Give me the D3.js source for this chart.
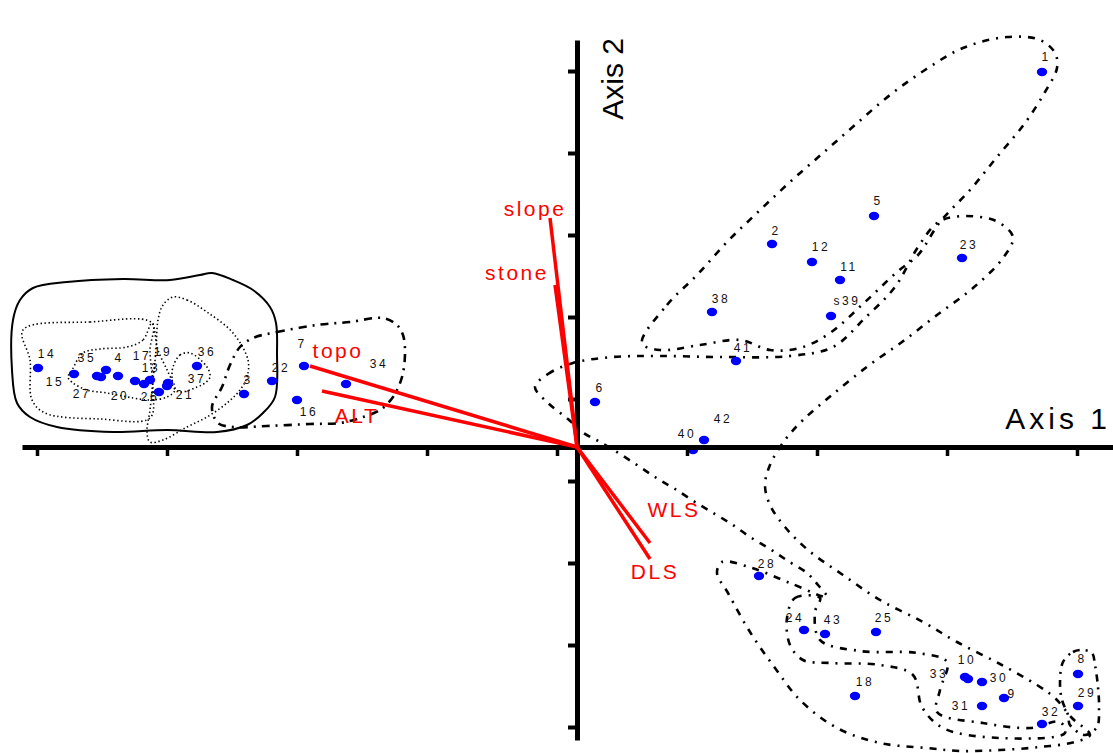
<!DOCTYPE html>
<html>
<head>
<meta charset="utf-8">
<script src="https://cdn.jsdelivr.net/npm/d3@7"></script>
<style>
html,body{margin:0;padding:0;background:#fff;}
svg{display:block;}
</style>
</head>
<body>
<svg id="chart" width="1113" height="753"></svg>
<script>
// ---------- data (ordination scores) ----------
const siteIds = ["1","2","3","4","5","6","7","8","9","10","11","12","13","14","15","16","17","18","19","20","21","22","23","24","25","26","27","28","29","30","31","32","33","34","35","36","37","38","s39","40","41","42","43"];
const axis1Scores = [4.65,1.95,-3.33,-4.59,2.97,0.18,-2.73,5.01,4.27,3.88,2.63,2.35,-4.33,-5.39,-5.03,-2.80,-4.42,2.78,-4.27,-4.71,-4.10,-3.05,3.85,2.27,2.99,-4.18,-4.76,1.82,5.01,4.05,4.05,4.65,3.91,-2.31,-4.80,-3.80,-4.09,1.35,2.54,1.16,1.59,1.27,2.48];
const axis2Scores = [3.75,2.03,0.53,0.71,2.31,0.45,0.81,-2.27,-2.51,-2.30,1.67,1.85,0.63,0.79,0.73,0.47,0.66,-2.49,0.67,0.77,0.61,0.66,1.89,-1.83,-1.85,0.55,0.70,-1.29,-2.59,-2.35,-2.59,-2.77,-2.32,0.63,0.71,0.81,0.64,1.35,1.31,-0.03,0.86,0.07,-1.87];
// label anchor positions (score units)
const labelAxis1 = [4.69,1.99,-3.29,-4.58,3.01,0.23,-2.75,5.05,4.35,3.90,2.72,2.44,-4.26,-5.30,-5.22,-2.68,-4.35,2.88,-4.14,-4.57,-3.92,-2.96,3.92,2.18,3.07,-4.27,-4.95,1.90,5.10,4.22,3.84,4.74,3.62,-1.98,-4.90,-3.70,-3.80,1.44,2.70,1.10,1.66,1.46,2.56];
const labelAxis2 = [3.90,2.16,0.67,0.89,2.46,0.59,1.03,-2.12,-2.47,-2.13,1.80,2.00,0.79,0.93,0.65,0.35,0.91,-2.35,0.95,0.51,0.52,0.79,2.02,-1.71,-1.71,0.50,0.53,-1.17,-2.46,-2.31,-2.59,-2.65,-2.27,0.83,0.89,0.95,0.68,1.48,1.46,0.13,0.99,0.28,-1.73];

// environmental vectors
const envNames = ["slope","stone","topo","ALT","WLS","DLS"];
const envAxis1 = [-0.27,-0.22,-2.67,-2.55,0.73,0.73];
const envAxis2 = [2.29,1.62,0.81,0.56,-0.96,-1.12];
const envLabelAxis1 = [-0.42,-0.60,-2.39,-2.20,0.97,0.78];
const envLabelAxis2 = [2.31,1.67,0.89,0.24,-0.70,-1.32];

// axis ticks
const axis1Ticks = [-5.40,-4.10,-2.80,-1.50,-0.20,1.10,2.40,3.70,5.00];
const axis2Ticks = [3.76,2.94,2.12,1.30,0.48,-0.34,-1.16,-1.98,-2.80];
const axisTitles = ["Axis 1","Axis 2"];

// group envelopes (score units)
const envSolid = [[-3.65,1.74],[-3.44,1.67],[-3.24,1.57],[-3.07,1.40],[-3.01,1.24],[-3.00,0.94],[-3.02,0.50],[-3.14,0.34],[-3.30,0.22],[-3.60,0.15],[-4.10,0.17],[-4.64,0.15],[-5.20,0.20],[-5.47,0.30],[-5.60,0.44],[-5.65,0.77],[-5.64,1.27],[-5.57,1.47],[-5.44,1.59],[-5.10,1.65],[-4.54,1.68],[-4.07,1.67],[-3.77,1.72]];
const envDot1 = [[-5.54,1.17],[-4.87,1.25],[-4.25,1.24],[-4.27,0.97],[-4.24,0.57],[-4.27,0.29],[-4.77,0.28],[-5.32,0.34],[-5.45,0.47],[-5.47,0.87]];
const envDot2 = [[-4.25,1.24],[-4.34,1.07],[-4.50,1.00],[-4.77,0.98],[-4.94,0.94],[-5.05,0.77],[-5.09,0.70],[-5.04,0.64],[-4.90,0.57],[-4.70,0.54],[-4.44,0.49],[-4.27,0.47],[-4.10,0.50],[-4.02,0.57],[-4.09,0.75],[-4.19,0.97]];
const envDot3 = [[-4.04,1.50],[-3.90,1.47],[-3.70,1.35],[-3.44,1.14],[-3.29,0.87],[-3.30,0.70],[-3.37,0.57],[-3.50,0.44],[-3.70,0.30],[-3.90,0.20],[-4.14,0.07],[-4.27,0.05],[-4.30,0.15],[-4.27,0.37],[-4.24,0.67],[-4.21,0.97],[-4.19,1.27],[-4.14,1.42]];
const envDot4 = [[-4.04,0.80],[-3.97,0.92],[-3.87,0.94],[-3.70,0.80],[-3.67,0.70],[-3.72,0.64],[-3.80,0.60],[-3.97,0.55],[-4.04,0.60],[-4.05,0.70]];
const envDash1 = [[-3.24,1.09],[-3.00,1.15],[-2.60,1.22],[-2.27,1.25],[-1.94,1.29],[-1.80,1.22],[-1.74,1.12],[-1.72,0.94],[-1.75,0.70],[-1.84,0.50],[-1.97,0.37],[-2.17,0.29],[-2.37,0.24],[-2.67,0.23],[-3.10,0.21],[-3.44,0.20],[-3.59,0.24],[-3.65,0.40],[-3.55,0.60],[-3.47,0.82],[-3.37,1.00]];
const envDash2 = [[0.65,1.04],[0.90,1.42],[1.20,1.72],[1.50,2.05],[1.81,2.35],[2.13,2.65],[2.46,2.94],[2.78,3.22],[3.13,3.52],[3.48,3.77],[3.86,3.99],[4.30,4.10],[4.63,4.07],[4.78,3.94],[4.80,3.79],[4.68,3.55],[4.48,3.24],[4.20,2.90],[3.93,2.57],[3.63,2.25],[3.41,1.92],[3.20,1.75],[2.88,1.45],[2.53,1.14],[2.23,0.99],[1.93,0.97],[1.63,1.07],[1.23,1.02],[0.83,0.97]];
const envDash3 = [[-0.42,0.60],[-0.29,0.73],[-0.04,0.84],[0.36,0.90],[0.83,0.91],[1.43,0.90],[2.13,0.91],[2.56,1.00],[2.88,1.29],[3.18,1.60],[3.41,2.00],[3.60,2.24],[3.76,2.30],[4.03,2.30],[4.21,2.25],[4.36,2.10],[4.26,1.89],[3.96,1.59],[3.60,1.32],[3.25,1.05],[2.91,0.81],[2.55,0.52],[2.26,0.27],[2.08,0.07],[1.93,-0.18],[1.88,-0.38],[1.93,-0.58],[2.08,-0.80],[2.31,-1.03],[2.66,-1.28],[3.03,-1.53],[3.46,-1.75],[3.80,-1.95],[4.23,-2.17],[4.60,-2.38],[4.78,-2.51],[4.95,-2.71],[5.13,-2.88],[4.98,-2.95],[4.63,-3.00],[4.23,-3.03],[3.83,-3.04],[3.50,-3.01],[3.03,-2.96],[2.60,-2.81],[2.23,-2.53],[1.98,-2.21],[1.73,-1.85],[1.51,-1.46],[1.40,-1.26],[1.45,-1.15],[1.75,-1.21],[2.13,-1.36],[2.50,-1.50],[2.41,-1.38],[2.30,-1.26],[2.11,-1.14],[1.93,-1.02],[1.73,-0.90],[1.56,-0.78],[1.38,-0.67],[1.18,-0.55],[0.98,-0.42],[0.81,-0.32],[0.63,-0.20],[0.43,-0.07],[0.23,0.05],[0.05,0.15],[-0.09,0.28],[-0.29,0.44]];
const envDash4 = [[2.10,-1.71],[2.18,-1.51],[2.43,-1.51],[2.38,-1.65],[2.43,-1.93],[2.83,-2.04],[3.40,-2.06],[3.70,-2.15],[3.63,-2.43],[3.60,-2.65],[4.06,-2.76],[4.53,-2.81],[4.83,-2.75],[4.88,-2.86],[4.23,-2.91],[3.66,-2.81],[3.45,-2.60],[3.36,-2.28],[3.03,-2.18],[2.53,-2.16],[2.26,-2.13],[2.13,-1.98]];
const envDash5 = [[4.86,-2.15],[4.96,-2.05],[5.05,-2.03],[5.15,-2.06],[5.18,-2.18],[5.21,-2.40],[5.22,-2.61],[5.20,-2.80],[5.08,-2.88],[4.93,-2.78],[4.91,-2.68],[4.85,-2.53],[4.83,-2.36]];

// ---------- drawing ----------
const svg = d3.select("#chart");
const x = d3.scaleLinear().domain([-5.55, 5.36]).range([22, 1113]);
const y = d3.scaleLinear().domain([-2.93, 4.07]).range([740, 40]);

const line = d3.line().x(d => x(d[0])).y(d => y(d[1])).curve(d3.curveCatmullRomClosed.alpha(0.5));

const envelopes = [
  {pts: envSolid, dash: null, w: 2},
  {pts: envDot1, dash: "1.4,2.6", w: 1.6},
  {pts: envDot2, dash: "1.4,2.6", w: 1.6},
  {pts: envDot3, dash: "1.4,2.6", w: 1.6},
  {pts: envDot4, dash: "1.4,2.6", w: 1.6},
  {pts: envDash1, dash: "8,6,2,6", w: 2.6},
  {pts: envDash2, dash: "7,7,2,7", w: 2.6},
  {pts: envDash3, dash: "7,7,2,7", w: 2.6},
  {pts: envDash4, dash: "7,7,2,7", w: 2.6},
  {pts: envDash5, dash: "7,6,2,6", w: 2.6}
];
svg.append("g").selectAll("path").data(envelopes).join("path")
  .attr("d", d => line(d.pts))
  .attr("fill", "none")
  .attr("stroke", "#000")
  .attr("stroke-width", d => d.w)
  .attr("stroke-dasharray", d => d.dash);

// site points
const sites = siteIds.map((id, i) => ({id, a1: axis1Scores[i], a2: axis2Scores[i], l1: labelAxis1[i], l2: labelAxis2[i]}));
svg.append("g").selectAll("ellipse").data(sites).join("ellipse")
  .attr("cx", d => x(d.a1)).attr("cy", d => y(d.a2))
  .attr("rx", 5.2).attr("ry", 4.2)
  .attr("fill", "#0000ff");

// axes
const xAxis = d3.axisBottom(x).tickValues(axis1Ticks).tickSize(9).tickSizeOuter(0).tickFormat("");
const yAxis = d3.axisLeft(y).tickValues(axis2Ticks).tickSize(9).tickSizeOuter(0).tickFormat("");
const gx = svg.append("g").attr("transform", `translate(0,${y(0)})`).call(xAxis);
const gy = svg.append("g").attr("transform", `translate(${x(0)},0)`).call(yAxis);
gx.select(".domain").attr("stroke", "#000").attr("stroke-width", 5);
gx.selectAll(".tick line").attr("stroke", "#000").attr("stroke-width", 3.5);
gy.select(".domain").attr("stroke", "#000").attr("stroke-width", 5);
gy.selectAll(".tick line").attr("stroke", "#000").attr("stroke-width", 4);

// environmental arrows
const env = envNames.map((n, i) => ({n, a1: envAxis1[i], a2: envAxis2[i], l1: envLabelAxis1[i], l2: envLabelAxis2[i]}));
svg.append("g").selectAll("line").data(env).join("line")
  .attr("x1", x(0)).attr("y1", y(0))
  .attr("x2", d => x(d.a1)).attr("y2", d => y(d.a2))
  .attr("stroke", "#ff0000").attr("stroke-width", 3.5);
svg.append("g").selectAll("text").data(env).join("text")
  .attr("x", d => x(d.l1)).attr("y", d => y(d.l2))
  .attr("text-anchor", "middle")
  .attr("font-family", "Liberation Sans, Arial, sans-serif")
  .attr("font-size", 21).attr("letter-spacing", 2.5)
  .attr("fill", "#ff0000")
  .text(d => d.n);

// site labels
svg.append("g").selectAll("text").data(sites).join("text")
  .attr("x", d => x(d.l1)).attr("y", d => y(d.l2))
  .attr("text-anchor", "middle").attr("dominant-baseline", "central")
  .attr("font-family", "Liberation Sans, Arial, sans-serif")
  .attr("font-size", 12).attr("letter-spacing", 2.5)
  .attr("fill", "#111")
  .text(d => d.id);

// axis titles
svg.append("text")
  .attr("x", x(5.36) - 2).attr("y", y(0) - 18)
  .attr("text-anchor", "end")
  .attr("font-family", "Liberation Sans, Arial, sans-serif")
  .attr("font-size", 30).attr("letter-spacing", 4)
  .attr("fill", "#000")
  .text(axisTitles[0]);
svg.append("text")
  .attr("transform", `translate(${x(0) + 46},${y(4.07) - 2}) rotate(-90)`)
  .attr("text-anchor", "end")
  .attr("font-family", "Liberation Sans, Arial, sans-serif")
  .attr("font-size", 30)
  .attr("fill", "#000")
  .text(axisTitles[1]);
</script>
</body>
</html>
